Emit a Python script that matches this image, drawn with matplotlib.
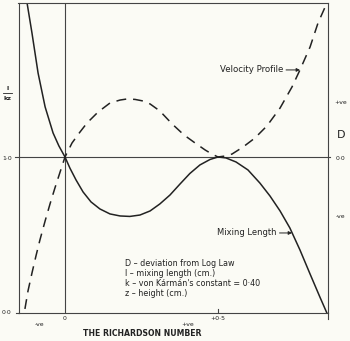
import matplotlib.pyplot as plt
from matplotlib.lines import Line2D

# mixing length curve (solid)
mix_x = [-0.124, -0.108, -0.088, -0.065, -0.039, -0.020, 0.000, 0.016, 0.036, 0.059,
         0.085, 0.114, 0.147, 0.180, 0.212, 0.245, 0.278, 0.310, 0.343, 0.376,
         0.408, 0.441, 0.474, 0.500, 0.526, 0.559, 0.598, 0.637, 0.670, 0.703,
         0.735, 0.768, 0.801, 0.833, 0.856]
mix_y = [1.987, 1.795, 1.538, 1.321, 1.154, 1.071, 1.000, 0.929, 0.853, 0.776,
         0.712, 0.667, 0.635, 0.622, 0.619, 0.628, 0.654, 0.699, 0.756, 0.827,
         0.894, 0.949, 0.984, 1.000, 0.994, 0.968, 0.917, 0.833, 0.750, 0.654,
         0.545, 0.404, 0.250, 0.103, 0.000]

# velocity profile curve (dashed)
vel_x = [-0.131, -0.121, -0.108, -0.095, -0.082, -0.065, -0.049, -0.033, -0.016, 0.000,
         0.023, 0.049, 0.072, 0.108, 0.147, 0.180, 0.203, 0.229, 0.255, 0.278,
         0.310, 0.350, 0.389, 0.425, 0.458, 0.480, 0.500, 0.523, 0.546, 0.582,
         0.621, 0.660, 0.703, 0.742, 0.768, 0.801, 0.827, 0.856]
vel_y = [0.026, 0.141, 0.256, 0.365, 0.468, 0.590, 0.699, 0.801, 0.904, 1.000,
         1.090, 1.160, 1.218, 1.288, 1.346, 1.365, 1.372, 1.369, 1.359, 1.340,
         1.295, 1.212, 1.141, 1.090, 1.045, 1.019, 1.000, 1.006, 1.019, 1.064,
         1.122, 1.199, 1.314, 1.449, 1.558, 1.705, 1.859, 1.987]

notes = ["D – deviation from Log Law",
         "l – mixing length (cm.)",
         "k – von Kármán's constant = 0·40",
         "z – height (cm.)"]

bg = '#fbfbf5'
ink = '#222222'

fig = plt.figure(figsize=(3.5, 3.41), dpi=100, facecolor=bg)
ax = fig.add_axes([18.5 / 350, 28 / 341, (327.5 - 18.5) / 350, (313 - 3) / 341])
ax.set_facecolor(bg)
ax.set_xlim(-0.152, 0.858)
ax.set_ylim(0, 1.987)
ax.set_xticks([])
ax.set_yticks([])
for s in ax.spines.values():
    s.set_color('#444444')
    s.set_linewidth(0.8)


def px(x, y):
    return x / 350, 1 - y / 341


# reference lines
ax.axvline(0, color='#444444', lw=0.8)
ax.plot([-0.164, 0.865], [1, 1], color='#444444', lw=0.8, clip_on=False)
fig.add_artist(Line2D([16 / 350, 18.5 / 350], [1 - 313 / 341] * 2, color='#444444', lw=0.8))
fig.add_artist(Line2D([327.5 / 350] * 2, [1 - 313 / 341, 1 - 319 / 341], color='#444444', lw=0.8))
ax.plot([0.5, 0.5], [0, 0.025], color='#444444', lw=0.8)

ax.plot(mix_x, mix_y, color=ink, lw=1.1, solid_joinstyle='round')
ax.plot(vel_x, vel_y, color=ink, lw=1.1, dashes=(6.5, 4.5))

arrow = dict(arrowstyle='-|>', lw=0.7, color=ink, shrinkA=0, shrinkB=0, mutation_scale=5)
ax.annotate('Velocity Profile', xy=(0.768, 1.558), xytext=(-12, 0),
            textcoords='offset points', ha='right', va='center', fontsize=6.2,
            color=ink, arrowprops=arrow)
ax.annotate('Mixing Length', xy=(0.742, 0.513), xytext=(-11, 0),
            textcoords='offset points', ha='right', va='center', fontsize=6.0,
            color=ink, arrowprops=arrow)

for i, t in enumerate(notes):
    fig.text(*px(125, 263 + i * 10.2), t, fontsize=5.8, color=ink, va='center')

small = dict(fontsize=4.4, color=ink, ha='center', va='center')
fig.text(*px(7, 158), '1·0', **small)
fig.text(*px(7, 313), '0·0', **small)
fig.text(*px(7.5, 88), 'l', fontsize=4.6, color=ink, ha='center', va='center', fontweight='bold')
fig.text(*px(7.5, 98), 'kz', fontsize=4.6, color=ink, ha='center', va='center', fontweight='bold')
fig.add_artist(Line2D([3 / 350, 12 / 350], [1 - 93 / 341] * 2, color=ink, lw=0.6))

fig.text(*px(341, 103), '+ve', **small)
fig.text(*px(341, 135), 'D', fontsize=8, color=ink, ha='center', va='center')
fig.text(*px(341, 159), '0·0', **small)
fig.text(*px(341, 217), '-ve', **small)

fig.text(*px(40, 325), '-ve', **small)
fig.text(*px(65, 318), '0', **small)
fig.text(*px(188, 324), '+ve', **small)
fig.text(*px(218, 318), '+0·5', **small)
fig.text(*px(142, 334), 'THE RICHARDSON NUMBER', fontsize=5.6, color=ink,
         ha='center', va='center', fontweight='bold')

plt.savefig('out.png', dpi=100, facecolor=bg)
